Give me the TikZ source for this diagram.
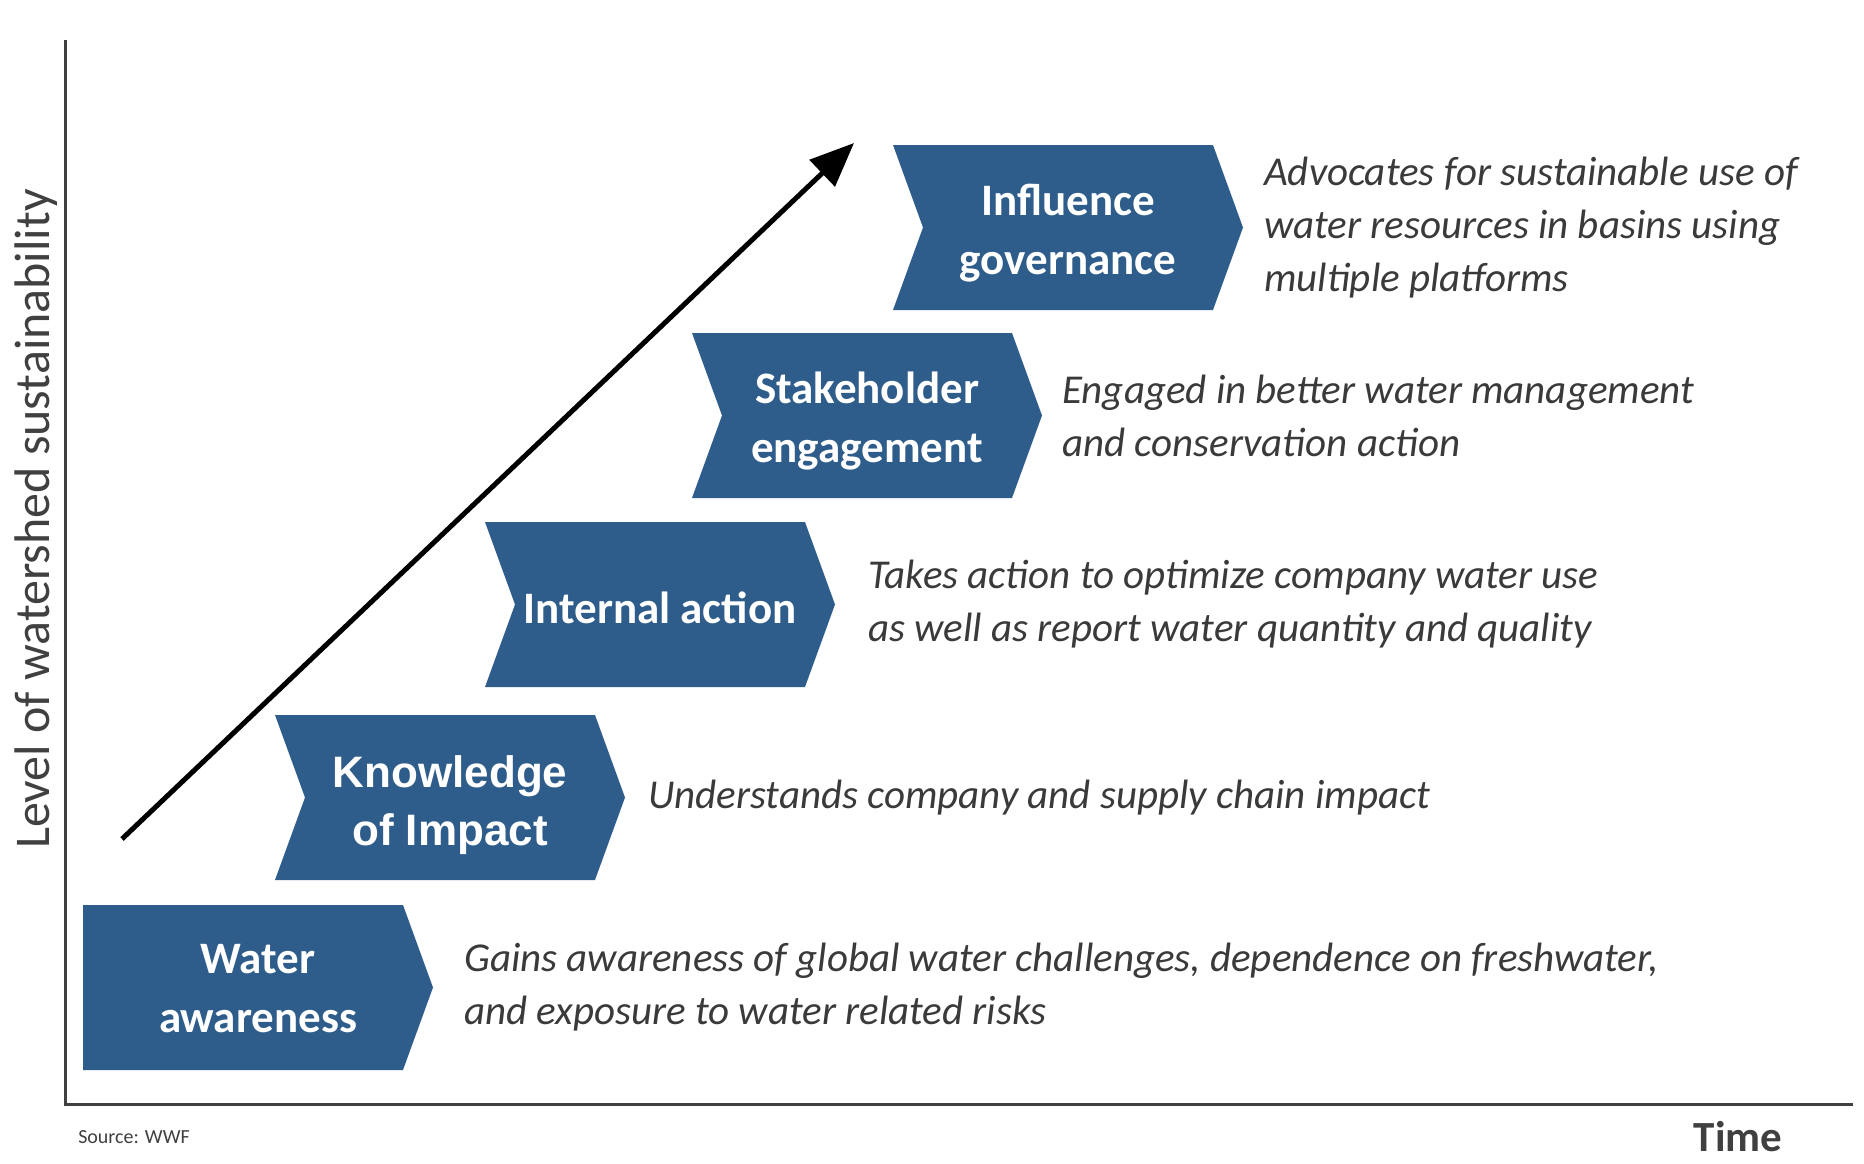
\documentclass[tikz,border=0pt]{standalone}
\usepackage{fontspec}
\setmainfont{Carlito}
\newfontfamily\arialfont{Liberation Sans}
\usetikzlibrary{arrows.meta}
\definecolor{boxblue}{RGB}{47,93,139}
\definecolor{desc}{RGB}{58,58,58}
\definecolor{axisgray}{RGB}{64,64,64}
\newcommand\chevshape[3]{%
  \fill[boxblue] (#1,#2) -- ++(320,0) -- ++(30,82.5) -- ++(-30,82.5) -- ++(-320,0) -- ++(30*#3,-82.5) -- cycle;}
\begin{document}
\begin{tikzpicture}[x=1pt,y=-1pt,
  boxtext/.style={text=white,font=\fontsize{45}{59}\selectfont\bfseries,align=center,inner sep=0},
  desctext/.style={text=desc,font=\fontsize{41}{53}\selectfont\itshape,align=left,anchor=west,inner sep=0},
  axisline/.style={draw=axisgray,line width=3pt},
  growth/.style={line width=5pt,-{Triangle[length=44pt,width=36pt]}}]
\useasboundingbox[fill=white] (0,0) rectangle (1864,1164);

% axes
\coordinate (ytop) at (65,40);
\coordinate (xend) at (1853,1104);
\draw[axisline] (ytop) |- (xend);

% chevrons
\chevshape{83}{905}{0}
\chevshape{275}{715}{1}
\chevshape{485}{522}{1}
\chevshape{692}{333}{1}
\chevshape{893}{145}{1}

\node[boxtext] (water) at (258,989) {Water\\awareness};
\node[boxtext,font=\fontsize{44}{58}\selectfont\arialfont\bfseries] (know) at (450,805) {Knowledge\\of Impact};
\node[boxtext] (internal) at (660,608) {Internal action};
\node[boxtext] (stake) at (867,421) {Stakeholder\\engagement};
\node[boxtext] (influence) at (1068,233) {Influence\\governance};

\node[desctext] (d1) at (464,987.5) {Gains awareness of global water challenges, dependence on freshwater,\\and exposure to water related risks};
\node[desctext] (d2) at (648,797.5) {Understands company and supply chain impact};
\node[desctext] (d3) at (868,604.5) {Takes action to optimize company water use\\as well as report water quantity and quality};
\node[desctext] (d4) at (1062,415.5) {Engaged in better water management\\and conservation action};
\node[desctext] (d5) at (1264,227.5) {Advocates for sustainable use of\\water resources in basins using\\multiple platforms};

% growth arrow
\coordinate (a0) at (122,839);
\coordinate (a1) at (854,143);
\draw[growth] (a0) -- (a1);

% labels
\node[rotate=90,text=axisgray,font=\fontsize{50}{56}\selectfont,inner sep=0] (ylab) at (36,519) {Level of watershed sustainability};
\node[text=axisgray,font=\fontsize{43}{50}\selectfont\bfseries,inner sep=0] (time) at (1738,1137) {Time};
\node[text=axisgray,font=\fontsize{20}{24}\selectfont,inner sep=0] (src) at (134,1137) {Source: WWF};
\end{tikzpicture}
\end{document}
